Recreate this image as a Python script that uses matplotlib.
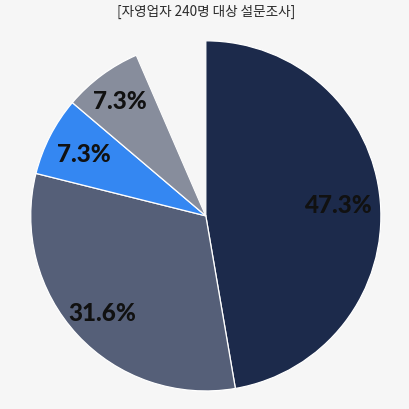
import matplotlib
matplotlib.use("Agg")
import matplotlib.pyplot as plt
import numpy as np

# Survey shares (%), clockwise from 12 o'clock
labels = ["47.3%", "31.6%", "7.3%", "7.3%", ""]
values = [47.3, 31.6, 7.3, 7.3, 6.5]
colors = ["#1c2a4b", "#555f78", "#3487f2", "#878d9c", "#f6f6f6"]
title = "[자영업자 240명 대상 설문조사]"

bg = "#f6f6f6"
fig = plt.figure(figsize=(4.1, 4.1), dpi=100, facecolor=bg)

fig.text(0.503, 0.971, title, ha="center", va="center", fontsize=9.8,
         color="#2a2a2a", family=["Noto Sans CJK KR", "DejaVu Sans"])

ax = fig.add_axes([0.502 - 0.427, 0.471 - 0.427, 0.854, 0.854])
ax.set_facecolor(bg)
wedges, _ = ax.pie(values, colors=colors, startangle=90, counterclock=False,
                   radius=1.0,
                   wedgeprops=dict(edgecolor="white", linewidth=0.9))
# the remaining share is left blank
wedges[-1].set_edgecolor(bg)
wedges[-1].set_linewidth(0)

start = 90.0
dists = [0.76, 0.81, 0.78, 0.82]
for i, (lab, v) in enumerate(zip(labels, values)):
    mid = start - v * 3.6 / 2
    start -= v * 3.6
    if not lab:
        continue
    r = dists[i]
    ax.text(r * np.cos(np.radians(mid)), r * np.sin(np.radians(mid)), lab,
            ha="center", va="center", fontsize=17.5, fontweight="black",
            color="#111111", family=["Lato", "DejaVu Sans"])

ax.set_xlim(-1, 1)
ax.set_ylim(-1, 1)
ax.set_aspect("equal")
ax.axis("off")

fig.savefig("out.png", dpi=100, facecolor=bg)
